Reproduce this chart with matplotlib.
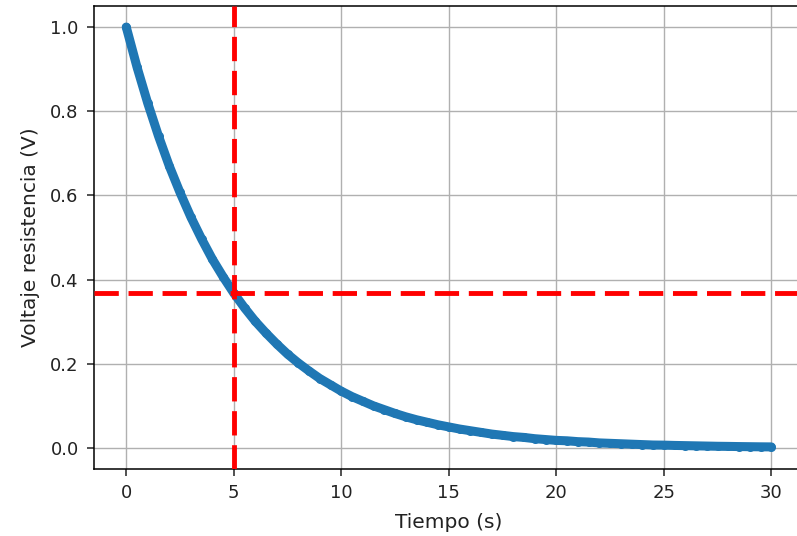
import matplotlib.pyplot as plt

# Time (s) and resistor voltage (V)
tiempo = [0, 0.5, 1, 1.5, 2, 2.5, 3, 3.5, 4, 4.5, 5, 5.5, 6, 6.5, 7, 7.5, 8, 8.5, 9, 9.5,
          10, 10.5, 11, 11.5, 12, 12.5, 13, 13.5, 14, 14.5, 15, 15.5, 16, 16.5, 17, 17.5,
          18, 18.5, 19, 19.5, 20, 20.5, 21, 21.5, 22, 22.5, 23, 23.5, 24, 24.5, 25, 25.5,
          26, 26.5, 27, 27.5, 28, 28.5, 29, 29.5, 30]
voltaje = [1.000, 0.905, 0.819, 0.741, 0.670, 0.607, 0.549, 0.497, 0.449, 0.407,
           0.368, 0.333, 0.301, 0.273, 0.247, 0.223, 0.202, 0.183, 0.165, 0.150,
           0.135, 0.122, 0.111, 0.100, 0.091, 0.082, 0.074, 0.067, 0.061, 0.055,
           0.050, 0.045, 0.041, 0.037, 0.033, 0.030, 0.027, 0.025, 0.022, 0.020,
           0.018, 0.017, 0.015, 0.014, 0.012, 0.011, 0.010, 0.009, 0.008, 0.007,
           0.0067, 0.006, 0.0055, 0.005, 0.0045, 0.004, 0.0037, 0.0033, 0.003, 0.0027,
           0.0025]

# time constant marker
tau = 5
v_tau = 0.368

fig = plt.figure(figsize=(7.97, 5.36), dpi=100)
ax = fig.add_axes([94 / 797, 67 / 536, 709.5 / 797, 463 / 536])

ax.plot(tiempo, voltaje, "-o", color="#1f77b4", linewidth=6.5, markersize=6.5,
        markeredgewidth=0, solid_capstyle="round", solid_joinstyle="round", zorder=3)
ax.axvline(tau, color="red", linewidth=3.5, linestyle=(0, (5, 2)), zorder=4)
ax.axhline(v_tau, color="red", linewidth=3.5, linestyle=(0, (5, 2)), zorder=4)

ax.set_xlim(-1.5, 31.5)
ax.set_ylim(-0.05, 1.05)
ax.set_xticks([0, 5, 10, 15, 20, 25, 30])
ax.set_yticks([0.0, 0.2, 0.4, 0.6, 0.8, 1.0])
ax.tick_params(labelsize=13, length=5, width=1.1, pad=6, colors="#222222")
ax.set_xlabel("Tiempo (s)", fontsize=14.5, color="#222222", labelpad=8)
ax.set_ylabel("Voltaje resistencia (V)", fontsize=14.5, color="#222222", labelpad=7)
ax.grid(True, color="#b0b0b0", linewidth=1.0)
ax.set_axisbelow(True)
for s in ax.spines.values():
    s.set_linewidth(1.1)
ax.spines["right"].set_visible(False)

plt.savefig("out.png", dpi=100)
